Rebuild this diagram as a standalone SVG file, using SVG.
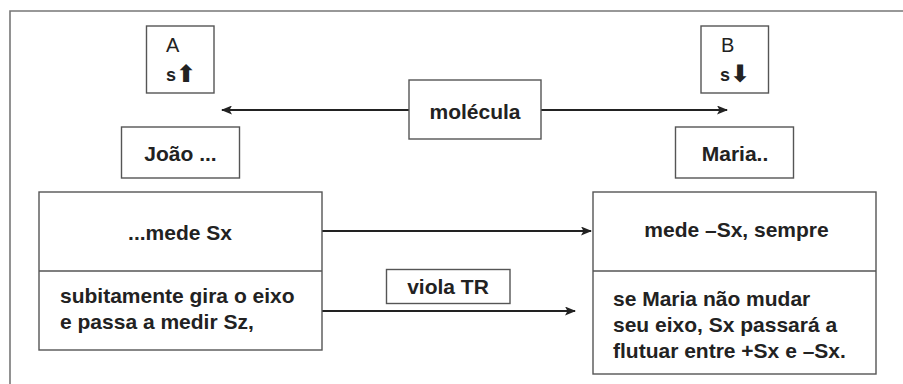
<svg xmlns="http://www.w3.org/2000/svg" width="903" height="384" viewBox="0 0 903 384">
<defs>
<marker id="ah" markerWidth="11" markerHeight="9" refX="10" refY="4.5" orient="auto" markerUnits="userSpaceOnUse">
<path d="M0,0 L11,4.5 L0,9 L2.5,4.5 z" fill="#222"/>
</marker>
<style>
.box{fill:#fff;stroke:#555;stroke-width:1.4}
.frame{fill:none;stroke:#777;stroke-width:1.6}
.t{font-family:"Liberation Sans",Arial,sans-serif;font-size:21px;font-weight:bold;fill:#222}
.r{font-family:"Liberation Sans",Arial,sans-serif;font-size:20px;fill:#222}
.s{font-family:"Liberation Sans",Arial,sans-serif;font-size:18px;font-weight:bold;fill:#222}
.ar{font-family:"DejaVu Sans",sans-serif;font-size:24px;font-weight:bold}
.c{text-anchor:middle}
.ln{fill:none;stroke:#222;stroke-width:2;marker-end:url(#ah)}
</style>
</defs>
<rect width="903" height="384" fill="#fff"/>
<path class="frame" d="M10,384 V11 H903"/>
<g id="connectors">
<line class="ln" x1="409" y1="110" x2="222" y2="110"/>
<line class="ln" x1="541" y1="110" x2="727" y2="110"/>
<line class="ln" x1="322" y1="231" x2="591" y2="231"/>
<line class="ln" x1="322" y1="311" x2="575" y2="311"/>
</g>
<g id="A">
<rect class="box" x="146.5" y="26" width="67.5" height="67"/>
<text class="r" x="166" y="52">A</text>
<text class="s" x="166" y="81">s<tspan class="ar" dy="1">⬆</tspan></text>
</g>
<g id="B">
<rect class="box" x="701" y="26" width="67.5" height="67"/>
<text class="r" x="721" y="52">B</text>
<text class="s" x="720" y="81">s<tspan class="ar" dy="1">⬇</tspan></text>
</g>
<g id="molecula">
<rect class="box" x="409" y="80" width="132" height="59"/>
<text class="t c" x="475" y="119">molécula</text>
</g>
<g id="joao">
<rect class="box" x="121.5" y="127" width="118" height="51"/>
<text class="t c" x="180.5" y="161">João ...</text>
</g>
<g id="maria">
<rect class="box" x="675.5" y="127" width="118" height="51"/>
<text class="t c" x="735" y="161">Maria..</text>
</g>
<g id="joao-box">
<rect class="box" x="39" y="192" width="283" height="158"/>
<line x1="39" y1="271" x2="322" y2="271" stroke="#555" stroke-width="1.4"/>
<text class="t c" x="180" y="240">...mede Sx</text>
<text class="t" x="60" y="303">subitamente gira o eixo</text>
<text class="t" x="60" y="329">e passa a medir Sz,</text>
</g>
<g id="maria-box">
<rect class="box" x="593" y="192" width="283" height="182"/>
<line x1="593" y1="271" x2="876" y2="271" stroke="#555" stroke-width="1.4"/>
<text class="t c" x="736.5" y="237">mede –Sx, sempre</text>
<text class="t" x="613" y="306">se Maria não mudar</text>
<text class="t" x="613" y="332">seu eixo, Sx passará a</text>
<text class="t" x="613" y="358">flutuar entre +Sx e –Sx.</text>
</g>
<g id="viola">
<rect class="box" x="386.5" y="269.5" width="123.5" height="34"/>
<text class="t c" x="448" y="294">viola TR</text>
</g>
</svg>
